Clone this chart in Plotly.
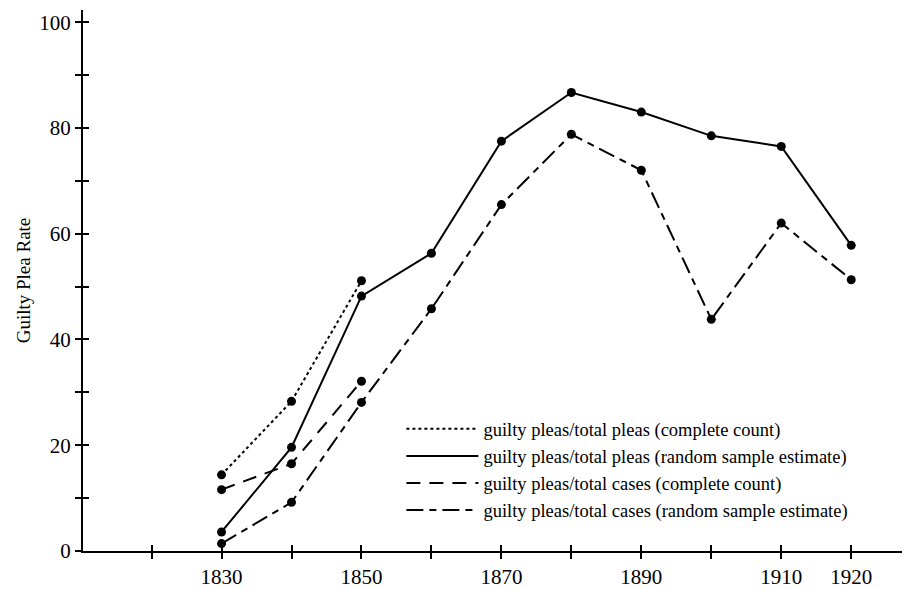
import plotly.graph_objects as go

years_full = [1830, 1840, 1850, 1860, 1870, 1880, 1890, 1900, 1910, 1920]
years_early = [1830, 1840, 1850]

pleas_complete = [14.4, 28.3, 51.1]
pleas_sample = [3.6, 19.6, 48.2, 56.3, 77.5, 86.7, 83.0, 78.5, 76.5, 57.8]
cases_complete = [11.6, 16.5, 32.1]
cases_sample = [1.4, 9.2, 28.1, 45.8, 65.5, 78.8, 72.0, 43.8, 62.0, 51.3]

names = [
    "guilty pleas/total pleas (complete count)",
    "guilty pleas/total pleas (random sample estimate)",
    "guilty pleas/total cases (complete count)",
    "guilty pleas/total cases (random sample estimate)",
]
xs = [years_early, years_full, years_early, years_full]
ys = [pleas_complete, pleas_sample, cases_complete, cases_sample]
dashes = ["3px,3px", "solid", "14px,9px", "17px,6px,7px,6px"]

x_ticks = list(range(1820, 1930, 10))
x_labels = ["", "1830", "", "1850", "", "1870", "", "1890", "", "1910", "1920"]
y_ticks = list(range(0, 101, 10))
y_labels = ["0", "", "20", "", "40", "", "60", "", "80", "", "100"]

FONT = "Liberation Serif"
fig = go.Figure()
for x, y, n, d in zip(xs, ys, names, dashes):
    fig.add_trace(go.Scatter(x=x, y=y, mode="lines", name=n,
                             line=dict(color="black", width=2, dash=d)))
for x, y in zip(xs, ys):
    fig.add_trace(go.Scatter(x=x, y=y, mode="markers", showlegend=False,
                             marker=dict(color="black", size=9)))
# invisible trace to activate overlay axes used for crossing ticks
fig.add_trace(go.Scatter(x=[1830], y=[0], xaxis="x2", yaxis="y2", mode="markers",
                         marker=dict(opacity=0), showlegend=False, hoverinfo="skip"))

xr = [1810.2, 1928.4]
yr = [0, 102.3]
# page body has an 8px default margin: figure is sized/offset to compensate
fig.update_layout(
    width=902, height=581,
    margin=dict(l=75, r=0, t=2, b=34),
    paper_bgcolor="white", plot_bgcolor="white",
    font=dict(family=FONT, size=20, color="black"),
    showlegend=True,
    legend=dict(x=0.385, y=0.26, xanchor="left", yanchor="top",
                bgcolor="rgba(0,0,0,0)", font=dict(size=18.5, family=FONT),
                itemwidth=72, tracegroupgap=0),
    xaxis=dict(range=xr, tickvals=x_ticks, ticktext=x_labels, ticks="outside",
               ticklen=6, tickwidth=2, tickcolor="black", showline=True,
               linewidth=2, linecolor="black", showgrid=False, zeroline=False,
               tickfont=dict(size=21, family=FONT)),
    yaxis=dict(range=yr, tickvals=y_ticks, ticktext=y_labels, ticks="outside",
               ticklen=6, tickwidth=2, tickcolor="black", showline=True,
               linewidth=2, linecolor="black", showgrid=False, zeroline=False,
               tickfont=dict(size=21, family=FONT),
               title=dict(text="Guilty Plea Rate", font=dict(size=19, family=FONT),
                          standoff=4)),
    xaxis2=dict(range=xr, overlaying="x", tickvals=x_ticks, ticks="inside",
                ticklen=6, tickwidth=2, tickcolor="black", showticklabels=False,
                showgrid=False, zeroline=False, side="bottom"),
    yaxis2=dict(range=yr, overlaying="y", tickvals=y_ticks, ticks="inside",
                ticklen=6, tickwidth=2, tickcolor="black", showticklabels=False,
                showgrid=False, zeroline=False, side="left"),
)
fig.write_html("out.html")
